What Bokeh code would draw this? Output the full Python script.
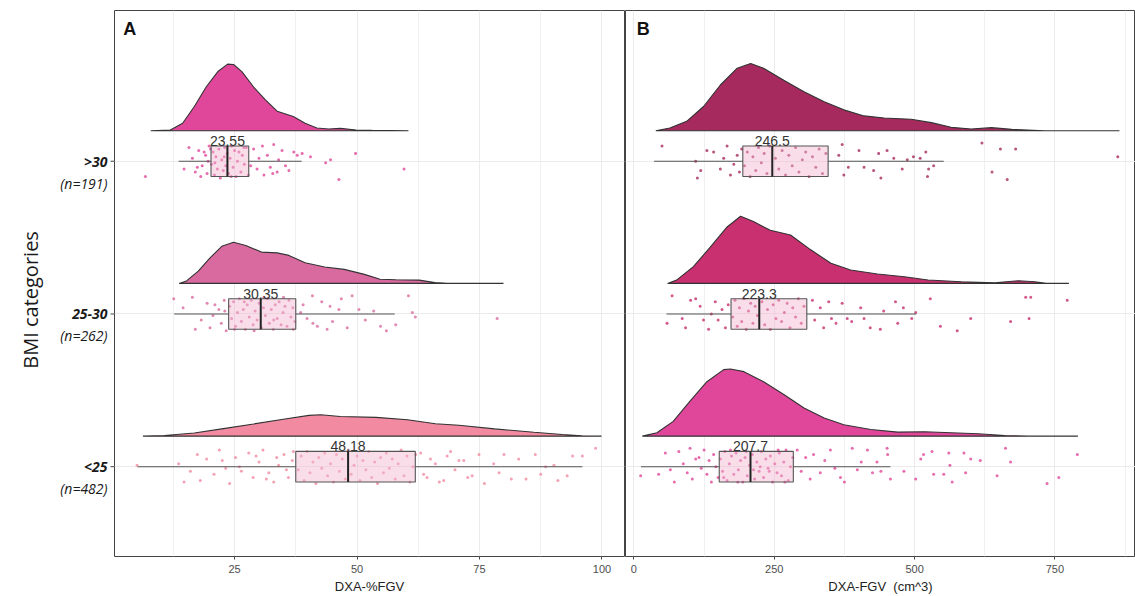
import math
from bokeh.plotting import figure
from bokeh.layouts import row
from bokeh.models import FixedTicker, Range1d, Grid
from bokeh.core.properties import value
from bokeh.embed import file_html
from bokeh.resources import INLINE

# ---------------- data ----------------
categories = ["<25", "25-30", ">30"]          # bottom -> top
cat_pos = [1, 2, 3]
n_counts = [482, 262, 191]
y_title = "BMI categories"

# Panel A : DXA-%FGV
A_median = [48.18, 30.35, 23.55]
A_q1 = [37.5, 23.8, 20.2]
A_q3 = [61.9, 37.5, 27.9]
A_wlo = [5.2, 12.7, 13.6]
A_whi = [96.0, 57.7, 38.7]
A_colors = ["#F28AA1", "#D96A9F", "#E0479A"]
A_peak = [0.14, 0.27, 0.44]

# Panel B : DXA-FGV (cm^3)
B_median = [207.7, 223.3, 246.5]
B_q1 = [152, 173, 194]
B_q3 = [284, 308, 346]
B_wlo = [12.5, 58, 36]
B_whi = [457, 503, 552]
B_colors = ["#E0479A", "#C8306F", "#A62A5E"]
B_peak = [0.44, 0.44, 0.44]

# density curves (x, relative height)
A_low_dx = [6.3, 10.7, 16.8, 22.4, 28.9, 35.3, 40.2, 42.6, 46.6, 53.9, 60.3, 66.0, 70.8, 78.1, 86.1, 91.9, 95.9, 99.9]
A_low_dh = [0, 0.03, 0.15, 0.34, 0.57, 0.80, 0.97, 1.0, 0.92, 0.88, 0.77, 0.58, 0.51, 0.34, 0.18, 0.08, 0.02, 0]
A_mid_dx = [13.7, 15.2, 17.6, 20.0, 22.4, 24.8, 27.3, 30.5, 33.7, 36.1, 39.4, 43.4, 47.4, 51.5, 54.7, 57.9, 62.7, 65.9, 68.4, 79.9]
A_mid_dh = [0, 0.06, 0.30, 0.62, 0.90, 1.0, 0.92, 0.76, 0.74, 0.68, 0.50, 0.40, 0.34, 0.22, 0.10, 0.09, 0.08, 0.02, 0, 0]
A_high_dx = [7.9, 11.9, 14.4, 16.8, 19.2, 21.6, 23.6, 24.8, 26.5, 28.9, 31.3, 33.7, 37.0, 39.4, 41.8, 44.2, 46.6, 49.8, 53.1, 60.5]
A_high_dh = [0, 0.01, 0.11, 0.36, 0.65, 0.88, 0.99, 0.985, 0.88, 0.65, 0.46, 0.29, 0.21, 0.11, 0.04, 0.025, 0.035, 0.01, 0.005, 0]

B_low_dx = [15, 41, 70, 100, 130, 160, 172, 196, 231, 267, 303, 339, 374, 422, 470, 518, 565, 613, 661, 702, 791]
B_low_dh = [0, 0.05, 0.22, 0.52, 0.81, 0.99, 1.0, 0.96, 0.81, 0.62, 0.42, 0.27, 0.17, 0.10, 0.06, 0.065, 0.05, 0.035, 0.01, 0, 0]
B_mid_dx = [60, 76, 106, 136, 166, 190, 213, 243, 279, 315, 351, 386, 434, 482, 524, 583, 643, 685, 714, 738, 775]
B_mid_dh = [0, 0.05, 0.25, 0.54, 0.84, 1.0, 0.92, 0.79, 0.72, 0.50, 0.30, 0.20, 0.14, 0.10, 0.05, 0.025, 0.01, 0.04, 0.025, 0, 0]
B_high_dx = [39, 64, 94, 124, 154, 184, 208, 231, 267, 303, 339, 374, 410, 446, 494, 530, 565, 601, 637, 673, 732, 865]
B_high_dh = [0, 0.04, 0.14, 0.36, 0.68, 0.93, 1.0, 0.93, 0.75, 0.58, 0.43, 0.31, 0.22, 0.19, 0.17, 0.12, 0.05, 0.025, 0.045, 0.02, 0, 0]

# jittered observations (value, vertical jitter)
A_low_pts = [(5.1,0.01),(13.6,0.02),(14.7,-0.10),(16.0,-0.03),(17.4,0.08),(18.0,-0.09),(19.3,0.05),(20.8,-0.05),(21.9,0.11),(22.5,0.04),
    (23.2,-0.01),(24.0,-0.11),(25.2,0.06),(26.0,0.00),(26.4,-0.03),(27.9,0.09),(28.8,-0.07),(29.4,0.07),(30.0,0.03),(30.8,0.11),
    (31.5,-0.08),(32.0,-0.04),(33.0,-0.10),(33.6,0.06),(34.0,0.01),(35.1,0.08),(35.6,-0.02),(36.0,-0.07),(36.8,0.04),(37.0,0.10),
    (38.0,-0.02),(38.6,0.07),(39.2,-0.09),(39.8,0.10),(40.4,-0.04),(41.0,0.03),(41.6,-0.11),(42.2,0.06),(42.8,-0.01),(43.4,0.09),
    (44.0,-0.06),(44.6,0.02),(45.2,-0.10),(45.8,0.08),(46.4,-0.03),(47.0,0.05),(47.6,-0.08),(48.2,0.11),(48.8,-0.05),(49.4,0.01),
    (50.0,0.07),(50.6,-0.09),(51.2,0.04),(51.8,-0.02),(52.4,0.10),(53.0,-0.07),(53.6,0.03),(54.2,-0.11),(54.8,0.06),(55.4,-0.04),
    (56.0,0.09),(56.6,-0.01),(57.2,0.05),(57.8,-0.08),(58.4,0.02),(59.0,0.11),(59.6,-0.06),(60.2,0.07),(60.8,-0.10),(61.4,0.00),
    (62.0,0.08),(63.0,0.09),(63.6,-0.05),(64.3,-0.07),(65.0,0.05),(66.0,0.02),(66.8,-0.10),(67.7,-0.09),(68.4,0.07),(69.1,0.10),
    (70.0,-0.02),(70.8,0.04),(71.8,0.04),(72.6,-0.07),(73.5,-0.06),(74.9,0.08),(76.0,-0.11),(77.9,0.02),(79.0,-0.04),(80.0,0.08),
    (81.5,-0.08),(83.0,0.05),(84.5,-0.08),(86.4,0.08),(87.5,-0.05),(88.5,0.00),(90.2,0.01),(91.0,-0.09),(92.9,-0.06),(94.0,0.07),
    (96.0,0.07),(98.7,0.12)]
A_mid_pts = [(12.6,0.10),(14.5,0.04),(16.4,0.11),(17.0,-0.10),(18.2,-0.04),(19.4,0.07),(20.0,-0.09),(20.6,-0.01),(21.0,0.06),(21.8,0.03),
    (22.3,-0.06),(22.9,0.09),(23.0,0.02),(23.3,-0.11),(24.0,0.05),(24.4,-0.03),(24.8,0.08),(25.0,-0.10),(25.2,-0.08),(25.6,0.01),
    (26.0,0.10),(26.4,-0.05),(26.8,0.03),(27.0,0.08),(27.2,-0.10),(27.6,0.06),(28.0,-0.02),(28.4,0.09),(28.8,-0.07),(29.0,-0.11),
    (29.2,0.02),(29.6,-0.04),(30.0,0.07),(30.5,-0.09),(30.9,0.04),(31.0,0.11),(31.3,-0.01),(31.7,0.10),(32.1,-0.06),(32.5,0.03),
    (32.9,-0.10),(33.0,-0.04),(33.3,0.06),(33.7,-0.03),(34.1,0.08),(34.5,-0.07),(34.9,0.01),(35.0,0.11),(35.3,0.05),(35.7,-0.08),
    (36.1,0.09),(36.5,-0.02),(36.9,0.04),(37.0,-0.10),(37.3,-0.05),(38.5,0.01),(39.0,0.06),(39.8,-0.03),(40.9,0.12),(41.0,-0.06),
    (41.9,-0.08),(42.8,0.08),(43.9,-0.10),(44.5,0.05),(45.0,-0.05),(46.3,0.03),(46.8,0.10),(48.0,-0.09),(49.0,0.12),(50.4,0.03),
    (51.7,-0.04),(53.4,0.02),(54.8,-0.08),(56.0,-0.11),(57.9,-0.07),(60.5,0.12),(61.3,0.01),(61.9,-0.02),(78.6,-0.03)]
A_high_pts = [(6.8,-0.10),(14.7,-0.05),(15.7,0.09),(16.4,0.02),(17.0,-0.07),(17.4,-0.04),(17.7,0.07),(18.1,-0.10),(18.4,-0.03),(18.8,0.06),
    (19.1,0.04),(19.4,-0.08),(19.6,0.00),(19.8,0.10),(20.1,0.08),(20.3,-0.02),(20.6,0.06),(20.9,-0.09),(21.0,-0.01),(21.2,0.03),
    (21.5,-0.05),(21.8,0.08),(22.1,-0.11),(22.4,0.01),(22.7,-0.06),(22.9,0.03),(23.0,0.09),(23.2,-0.03),(23.5,0.05),(23.8,-0.08),
    (24.1,0.02),(24.3,-0.10),(24.4,0.10),(24.7,-0.04),(25.0,0.07),(25.3,-0.10),(25.6,0.00),(25.9,0.06),(26.3,-0.07),(26.6,0.04),
    (26.9,0.09),(27.0,-0.02),(27.4,0.09),(27.8,-0.09),(28.3,-0.03),(28.9,0.08),(29.6,-0.05),(30.0,0.02),(30.7,0.10),(31.0,-0.09),
    (31.7,0.04),(32.3,-0.04),(32.8,-0.08),(33.0,0.11),(33.7,-0.07),(34.0,0.01),(34.7,0.07),(35.4,-0.03),(36.1,-0.06),(37.1,0.06),
    (37.8,0.04),(38.8,0.05),(40.5,0.03),(43.6,-0.01),(44.6,0.01),(46.3,-0.12),(49.7,0.05),(59.6,-0.05)]

B_low_pts = [(12,-0.06),(44,-0.05),(56,0.09),(65,-0.02),(72,-0.10),(80,0.10),(88,0.02),(95,-0.04),(100,0.12),(104,-0.08),
    (110,0.05),(116,0.06),(120,-0.01),(125,0.11),(130,-0.05),(134,0.04),(138,-0.10),(142,0.08),(146,0.00),(150,-0.07),
    (154,0.05),(158,-0.03),(160,-0.07),(162,0.10),(166,-0.09),(170,0.02),(172,0.11),(174,0.07),(178,-0.05),(182,0.09),
    (185,-0.10),(186,-0.02),(190,0.04),(194,-0.10),(198,0.06),(200,0.10),(202,-0.06),(206,0.01),(211,0.08),(213,-0.02),
    (215,-0.08),(219,0.03),(223,-0.03),(225,0.00),(227,0.10),(231,-0.07),(235,0.05),(239,-0.01),(241,-0.03),(243,0.07),
    (247,-0.10),(251,0.02),(255,-0.04),(257,0.11),(259,0.09),(263,-0.06),(267,0.03),(269,-0.10),(271,0.11),(275,-0.09),
    (279,0.00),(283,0.06),(291,0.11),(298,-0.03),(306,0.06),(314,-0.08),(320,0.08),(332,-0.04),(340,0.04),(350,0.11),
    (358,-0.01),(368,-0.07),(375,-0.10),(389,0.12),(398,-0.02),(405,0.03),(416,0.11),(425,-0.04),(433,0.03),(440,-0.03),
    (451,0.12),(452,0.08),(457,-0.08),(481,-0.03),(502,-0.08),(511,0.05),(516,0.08),(531,0.10),(534,-0.05),(552,-0.05),
    (561,0.09),(563,0.01),(567,-0.10),(588,0.09),(591,-0.04),(600,0.05),(617,0.04),(647,-0.06),(662,0.12),(671,0.03),
    (736,-0.11),(757,-0.07),(790,0.08)]
B_mid_pts = [(59,-0.06),(68,0.12),(86,-0.03),(92,-0.09),(101,0.09),(110,0.10),(118,0.05),(124,-0.04),(133,-0.10),(138,0.00),
    (145,0.08),(150,-0.04),(157,0.03),(163,-0.09),(168,0.06),(176,-0.02),(180,0.09),(184,-0.08),(188,0.04),(192,-0.05),
    (196,0.10),(200,-0.10),(204,0.02),(208,0.07),(212,-0.06),(216,0.05),(220,-0.01),(228,0.08),(233,-0.07),(238,0.03),
    (243,-0.10),(248,0.06),(253,-0.03),(258,0.09),(263,-0.05),(268,0.01),(273,0.07),(278,-0.09),(283,0.04),(288,-0.02),
    (293,0.10),(298,-0.06),(303,0.05),(318,0.09),(322,-0.04),(332,0.04),(338,-0.09),(347,0.08),(352,-0.03),(360,-0.06),
    (371,0.07),(380,-0.03),(388,-0.05),(404,0.04),(410,-0.03),(421,-0.09),(439,-0.10),(445,0.02),(466,0.08),(470,-0.06),
    (480,0.04),(495,-0.03),(502,0.01),(528,0.10),(546,-0.08),(576,-0.11),(600,-0.03),(671,-0.05),(698,0.11),(704,-0.03),
    (707,0.11),(772,0.09)]
B_high_pts = [(50,0.10),(110,0.00),(113,-0.11),(119,-0.06),(130,0.07),(142,0.06),(154,-0.05),(160,0.02),(166,0.10),(172,-0.09),
    (178,-0.02),(184,0.04),(188,-0.07),(192,0.08),(197,-0.03),(202,0.06),(207,-0.10),(212,0.03),(217,-0.06),(222,0.09),
    (227,-0.01),(232,0.05),(237,-0.08),(242,0.10),(252,0.02),(258,-0.05),(264,0.07),(270,-0.09),(276,0.04),(282,-0.03),
    (288,0.09),(294,-0.07),(300,0.01),(306,0.06),(312,-0.10),(318,0.03),(324,-0.04),(330,0.08),(336,-0.08),(342,0.05),
    (365,0.04),(371,0.11),(374,-0.09),(382,-0.04),(401,0.07),(410,-0.04),(427,-0.06),(436,0.05),(440,-0.11),(451,0.07),
    (463,0.02),(478,-0.05),(487,0.01),(498,0.03),(510,0.02),(520,0.06),(523,-0.10),(525,-0.05),(534,-0.03),(620,0.12),
    (638,-0.07),(653,0.08),(665,-0.12),(680,0.08),(862,0.03)]

A_dens = [(A_low_dx, A_low_dh), (A_mid_dx, A_mid_dh), (A_high_dx, A_high_dh)]
B_dens = [(B_low_dx, B_low_dh), (B_mid_dx, B_mid_dh), (B_high_dx, B_high_dh)]
A_pts = [A_low_pts, A_mid_pts, A_high_pts]
B_pts = [B_low_pts, B_mid_pts, B_high_pts]

A_xticks = [25, 50, 75, 100]
A_xminor = [12.5, 37.5, 62.5, 87.5]
B_xticks = [0, 250, 500, 750]
B_xminor = [125, 375, 625, 875]

FONT = "Liberation Sans"
LFONT = "Open Sans"
Y_RANGE = (0.412, 3.987)
TOP, BOTTOM = 10, 39


def draw_groups(p, dens, pts, peaks, colors, med, q1, q3, wlo, whi):
    for i, c in enumerate(cat_pos):
        dx, dh = dens[i]
        base = c + 0.2
        p.patch(dx, [base + h * peaks[i] for h in dh], fill_color=colors[i],
                line_color="#333333", line_width=1.1)
        xs = [v for v, _ in pts[i]]
        ys = [c + j for _, j in pts[i]]
        p.scatter(xs, ys, size=3, color=colors[i], alpha=0.8, line_width=0)
        p.segment([wlo[i], q3[i]], [c, c], [q1[i], whi[i]], [c, c], line_color="#555555", line_width=1.1)
        p.quad(left=[q1[i]], right=[q3[i]], bottom=[c - 0.1], top=[c + 0.1],
               fill_color="#F2B6CE", fill_alpha=0.45, line_color="#555555", line_width=1.1)
        p.segment([med[i]], [c - 0.1], [med[i]], [c + 0.1], line_color="#222222", line_width=2)
        p.text([med[i]], [c + 0.1], text=[f"{med[i]:g}"], text_align="center",
               text_baseline="bottom", text_font_size="14px", text_color="#333333",
               text_font=value(FONT))


def style_x(p, ticks, minor, title):
    t = FixedTicker(ticks=ticks, minor_ticks=minor)
    p.xaxis.ticker = t
    p.xgrid.ticker = t
    p.xgrid.grid_line_color = "#EBEBEB"
    p.xgrid.minor_grid_line_color = "#F0F0F0"
    p.xaxis.minor_tick_line_color = None
    p.xaxis.major_tick_in = 0
    p.xaxis.major_tick_out = 3
    p.xaxis.major_tick_line_color = "#444444"
    p.xaxis.axis_line_color = None
    p.xaxis.major_label_standoff = 4
    p.xaxis.major_label_text_font = FONT
    p.xaxis.major_label_text_font_size = "11px"
    p.xaxis.major_label_text_color = "#4D4D4D"
    p.xaxis.axis_label = title
    p.xaxis.axis_label_standoff = 3
    p.xaxis.axis_label_text_font = FONT
    p.xaxis.axis_label_text_font_size = "13px"
    p.xaxis.axis_label_text_font_style = "normal"
    p.xaxis.axis_label_text_color = "#222222"
    p.outline_line_color = "#444444"
    p.outline_line_width = 1
    yt = FixedTicker(ticks=cat_pos, minor_ticks=[])
    if len(p.ygrid) > 0:
        p.ygrid.ticker = yt
        p.ygrid.grid_line_color = "#EBEBEB"
        p.ygrid.minor_grid_line_color = None
    else:
        p.add_layout(Grid(dimension=1, ticker=yt, grid_line_color="#EBEBEB"))


def panel_letter(p, x, txt):
    p.text([x], [3.93], text=[txt], text_align="left", text_baseline="top",
           text_font=value(FONT), text_font_size="18px", text_font_style="bold",
           text_color="#111111")


# ---------------- left label strip ----------------
pL = figure(width=114, height=596, x_range=Range1d(0, 114), y_range=Range1d(*Y_RANGE),
            output_backend="svg", toolbar_location=None, x_axis_location=None, y_axis_location=None,
            min_border_left=0, min_border_right=0, min_border_top=TOP, min_border_bottom=BOTTOM)
pL.outline_line_color = None
pL.xgrid.visible = False
pL.ygrid.visible = False
pL.text([107] * 3, cat_pos, text=categories, text_align="right", text_baseline="middle",
        text_font=value(LFONT), text_font_size="14px", text_font_style="bold italic",
        text_color="#1a1a1a")
pL.text([107] * 3, [c - 0.144 for c in cat_pos], text=[f"(n={n})" for n in n_counts],
        text_align="right", text_baseline="middle", text_font=value(LFONT),
        text_font_size="14px", text_font_style="italic", text_color="#1a1a1a")
pL.segment([110] * 3, cat_pos, [114] * 3, cat_pos, line_color="#444444", line_width=1)
pL.text([30], [2.092], text=[y_title], angle=math.pi / 2, text_align="center",
        text_baseline="middle", text_font=value(LFONT), text_font_size="20px",
        text_color="#1a1a1a")

# ---------------- panel A ----------------
pA = figure(width=511, height=596, x_range=Range1d(0.5, 104.6), y_range=Range1d(*Y_RANGE),
            output_backend="svg", toolbar_location=None, y_axis_location=None,
            min_border_left=0, min_border_right=1, min_border_top=TOP, min_border_bottom=BOTTOM)
style_x(pA, A_xticks, A_xminor, "DXA-%FGV")
draw_groups(pA, A_dens, A_pts, A_peak, A_colors, A_median, A_q1, A_q3, A_wlo, A_whi)
panel_letter(pA, 2.3, "A")

# ---------------- panel B ----------------
pB = figure(width=510, height=596, x_range=Range1d(-15.0, 893.6), y_range=Range1d(*Y_RANGE),
            output_backend="svg", toolbar_location=None, y_axis_location=None,
            min_border_left=0, min_border_right=0, min_border_top=TOP, min_border_bottom=BOTTOM)
style_x(pB, B_xticks, B_xminor, "DXA-FGV\u00a0 (cm^3)")
draw_groups(pB, B_dens, B_pts, B_peak, B_colors, B_median, B_q1, B_q3, B_wlo, B_whi)
panel_letter(pB, 5.0, "B")

layout = row(pL, pA, pB, spacing=0)
open("out.html", "w").write(file_html(layout, INLINE))
